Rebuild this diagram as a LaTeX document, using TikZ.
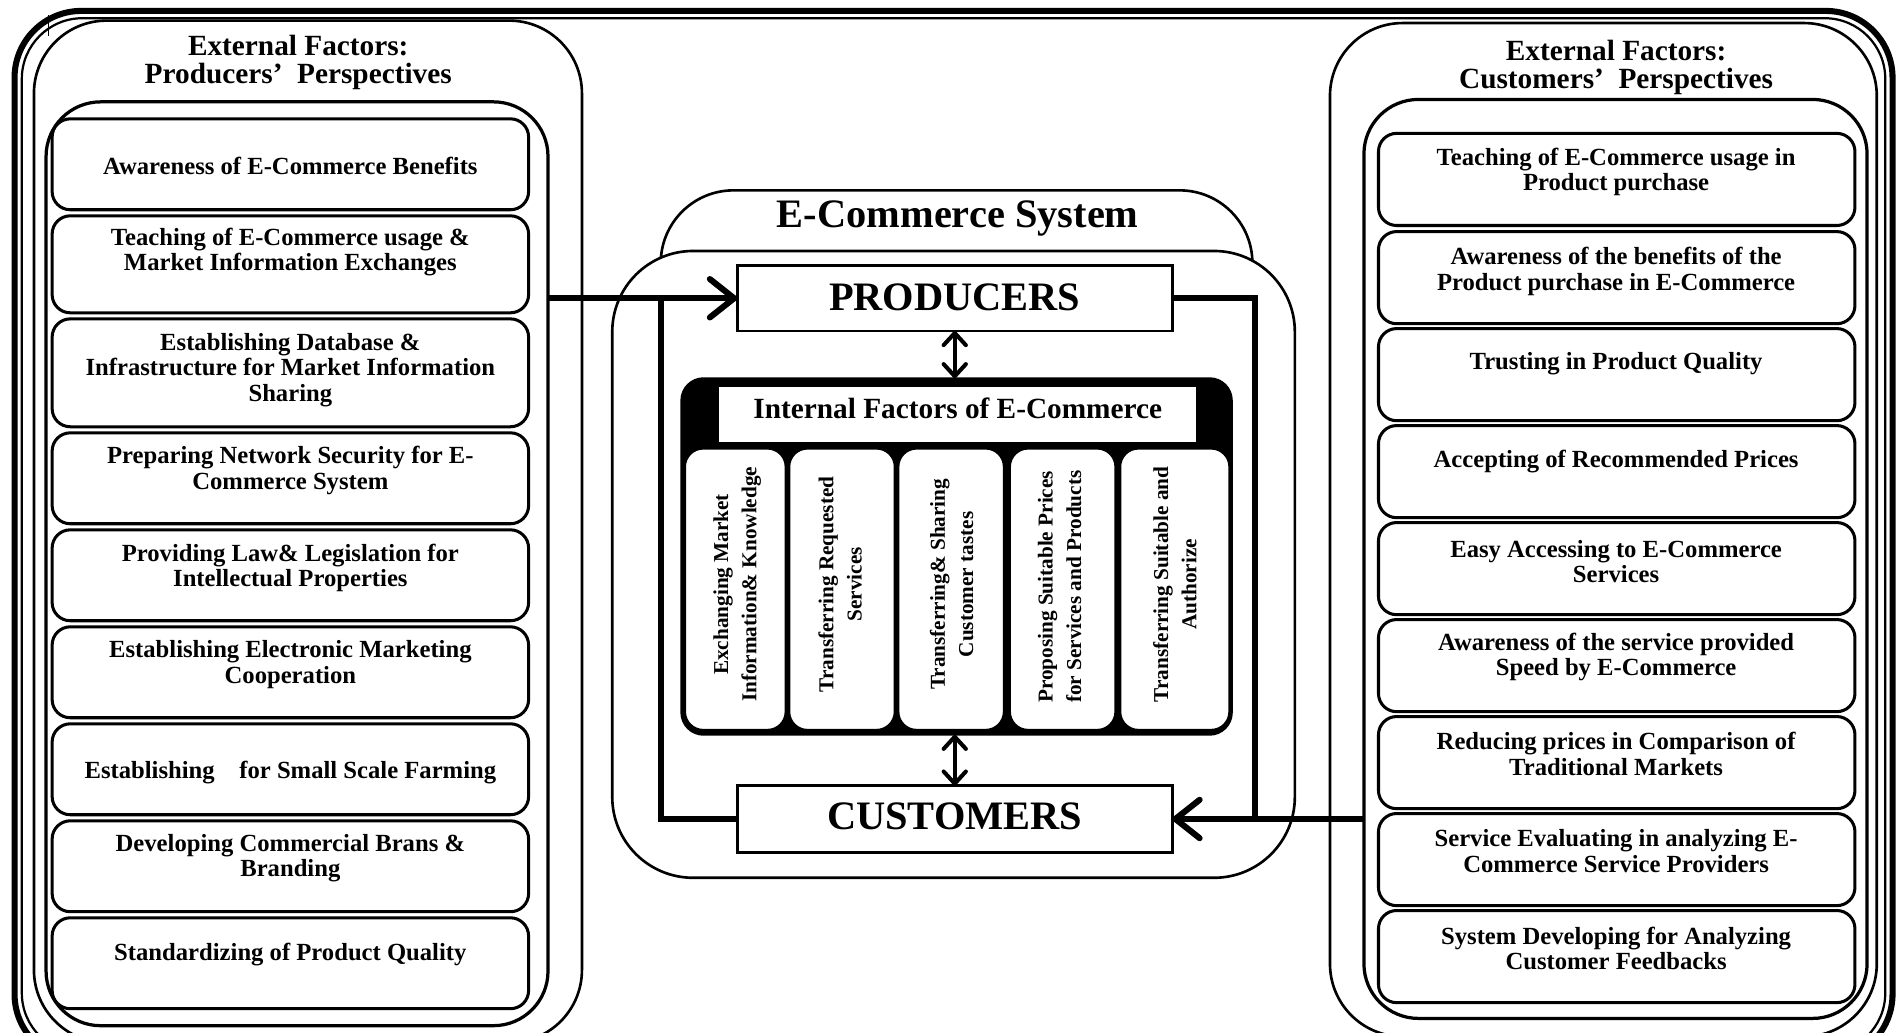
\documentclass[tikz,border=0pt]{standalone}
\usepackage{fontspec}
\setmainfont{Liberation Serif}
\usetikzlibrary{arrows.meta}
\newcommand\pbox[6]{\node[#6, minimum width={(#4-#2)*0.6pt}, minimum height={(#5-#3)*0.6pt}] (#1) at ({(#2+#4)/2},{(#3+#5)/2}) {};}
\begin{document}
\begin{tikzpicture}[x=0.6pt,y=-0.6pt,
  every node/.style={inner sep=0pt, outer sep=0pt},
  frame/.style={draw, line width=3pt, rounded corners=33pt},
  framein/.style={draw, line width=1.1pt, rounded corners=30pt},
  panel/.style={draw, line width=1.3pt, rounded corners=36pt},
  ipanel/.style={draw, line width=1.6pt, rounded corners=27pt},
  itembox/.style={draw, line width=1.5pt, rounded corners=9pt, fill=white},
  itemtxt/.style={font=\bfseries\fontsize{12.2}{12.6}\selectfont, align=center},
  titletxt/.style={font=\bfseries\fontsize{14.5}{13.8}\selectfont, align=center},
  tabbox/.style={draw, line width=1.3pt, rounded corners=36pt},
  mainbox/.style={draw, line width=1.3pt, rounded corners=40pt, fill=white},
  systxt/.style={font=\bfseries\fontsize{20}{24}\selectfont},
  actorbox/.style={draw, line width=1.4pt, fill=white},
  actortxt/.style={font=\bfseries\fontsize{20}{24}\selectfont},
  blackbox/.style={draw, fill=black, line width=1pt, rounded corners=11pt},
  hdrbox/.style={draw, fill=white, line width=1pt},
  hdrtxt/.style={font=\bfseries\fontsize{14.5}{17}\selectfont},
  colbox/.style={draw, fill=white, line width=1pt, rounded corners=9pt},
  coltxt/.style={font=\bfseries\fontsize{10.5}{14}\selectfont, align=center, rotate=90},
  bigline/.style={line width=3pt},
  bigarrow/.style={line width=3pt, -{Straight Barb[round,length=12pt,width=19pt]}},
  dblarrow/.style={line width=2pt, {Straight Barb[round,length=6pt,width=11pt]}-{Straight Barb[round,length=6pt,width=11pt]}}
]
\clip (0,0) rectangle (1568,852);
% outer frame
\pbox{outer}{12}{9}{1561}{875}{frame}
\pbox{outerin}{18}{15}{1555}{869}{framein}
\draw[line width=0.9pt] (40,12) -- (40,30);
% left side
\pbox{LO}{28}{17}{480}{860}{panel}
\node[titletxt] (LOt) at (246,51.5) {External Factors:\\Producers’~ Perspectives};
\pbox{LP}{38}{84}{452}{846}{ipanel}
\pbox{L1}{43}{98}{436}{173}{itembox}
\pbox{L2}{43}{178}{436}{258}{itembox}
\pbox{L3}{43}{263}{436}{352}{itembox}
\pbox{L4}{43}{357}{436}{432}{itembox}
\pbox{L5}{43}{437}{436}{512}{itembox}
\pbox{L6}{43}{517}{436}{592}{itembox}
\pbox{L7}{43}{597}{436}{672}{itembox}
\pbox{L8}{43}{677}{436}{752}{itembox}
\pbox{L9}{43}{757}{436}{832}{itembox}
\node[itemtxt] (L1t) at (239.5,137) {Awareness of E-Commerce Benefits};
\node[itemtxt] (L2t) at (239.5,208) {Teaching of E-Commerce usage \&\\Market Information Exchanges};
\node[itemtxt] (L3t) at (239.5,305) {Establishing Database \&\\Infrastructure for Market Information\\Sharing};
\node[itemtxt] (L4t) at (239.5,388) {Preparing Network Security for E-\\Commerce System};
\node[itemtxt] (L5t) at (239.5,468.5) {Providing Law\& Legislation for\\Intellectual Properties};
\node[itemtxt] (L6t) at (239.5,548) {Establishing Electronic Marketing\\Cooperation};
\node[itemtxt] (L7t) at (239.5,637) {Establishing\quad for Small Scale Farming};
\node[itemtxt] (L8t) at (239.5,708) {Developing Commercial Brans \&\\Branding};
\node[itemtxt] (L9t) at (239.5,787) {Standardizing of Product Quality};
% right side
\pbox{RO}{1097}{19}{1548}{855}{panel}
\node[titletxt] (ROt) at (1333,55.5) {External Factors:\\Customers’~ Perspectives};
\pbox{RP}{1125}{82}{1540}{840}{ipanel}
\pbox{R1}{1137}{110}{1530}{186}{itembox}
\pbox{R2}{1137}{191}{1530}{267}{itembox}
\pbox{R3}{1137}{271}{1530}{347}{itembox}
\pbox{R4}{1137}{351}{1530}{427}{itembox}
\pbox{R5}{1137}{431}{1530}{507}{itembox}
\pbox{R6}{1137}{511}{1530}{587}{itembox}
\pbox{R7}{1137}{591}{1530}{667}{itembox}
\pbox{R8}{1137}{671}{1530}{747}{itembox}
\pbox{R9}{1137}{751}{1530}{827}{itembox}
\node[itemtxt] (R1t) at (1333,142) {Teaching of E-Commerce usage in\\Product purchase};
\node[itemtxt] (R2t) at (1333,224) {Awareness of the benefits of the\\Product purchase in E-Commerce};
\node[itemtxt] (R3t) at (1333,300) {Trusting in Product Quality};
\node[itemtxt] (R4t) at (1333,381) {Accepting of Recommended Prices};
\node[itemtxt] (R5t) at (1333,463) {Easy Accessing to E-Commerce\\Services};
\node[itemtxt] (R6t) at (1333,542) {Awareness of the service provided\\Speed by E-Commerce};
\node[itemtxt] (R7t) at (1333,622) {Reducing prices in Comparison of\\Traditional Markets};
\node[itemtxt] (R8t) at (1333,702) {Service Evaluating in analyzing E-\\Commerce Service Providers};
\node[itemtxt] (R9t) at (1333,782.5) {System Developing for Analyzing\\Customer Feedbacks};
% centre
\pbox{tab}{545}{157}{1033}{320}{tabbox}
\node[systxt] (tabt) at (790,180) {E-Commerce System};
\pbox{sys}{505}{207}{1068}{724}{mainbox}
\pbox{prod}{608}{219}{967}{273}{actorbox}
\pbox{cust}{608}{648}{967}{703}{actorbox}
\node[actortxt] (prodt) at (787.5,245) {PRODUCERS};
\node[actortxt] (custt) at (787.5,673) {CUSTOMERS};
\pbox{intf}{562}{312}{1016}{606}{blackbox}
\pbox{hdr}{592}{318}{987}{365}{hdrbox}
\node[hdrtxt] (hdrt) at (790,337) {Internal Factors of E-Commerce};
\pbox{c1}{565}{370}{648}{602}{colbox}
\pbox{c2}{651}{370}{738}{602}{colbox}
\pbox{c3}{741}{370}{828}{602}{colbox}
\pbox{c4}{833}{370}{920}{602}{colbox}
\pbox{c5}{924}{370}{1014}{602}{colbox}
\node[coltxt] (c1t) at (608,482) {Exchanging Market\\Information\& Knowledge};
\node[coltxt] (c2t) at (693,482) {Transferring Requested\\Services};
\node[coltxt] (c3t) at (785,482) {Transferring\& Sharing\\Customer tastes};
\node[coltxt] (c4t) at (874,484) {Proposing Suitable Prices\\for Services and Products};
\node[coltxt] (c5t) at (969,482) {Transferring Suitable and\\Authorize};
% connectors
\draw[bigarrow] (LP.east |- prod.west) -- (prod.west);
\coordinate (lj) at (545,246);
\draw[bigline] (lj) |- (cust.west);
\coordinate (rj) at (1035,675.5);
\draw[bigline] (prod.east) -| (rj);
\draw[bigarrow] (RP.west |- cust.east) -- (cust.east);
\draw[dblarrow] (prod.south) -- (prod.south |- intf.north);
\draw[dblarrow] (cust.north |- intf.south) -- (cust.north);
\end{tikzpicture}
\end{document}
